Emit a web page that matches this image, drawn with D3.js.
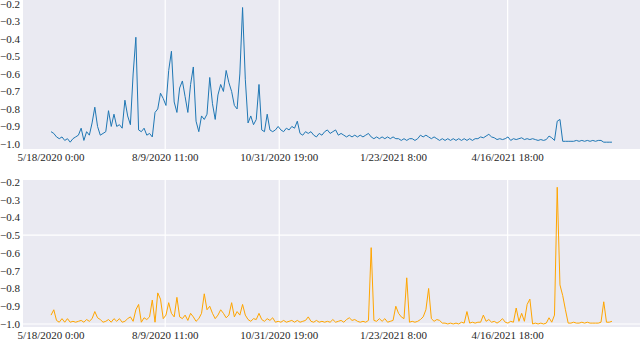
<!DOCTYPE html>
<html>
<head>
<meta charset="utf-8">
<script src="https://cdn.jsdelivr.net/npm/d3@7"></script>
<style>
  body { margin: 0; background: #fff; }
</style>
</head>
<body>
<div id="chart"></div>
<script>
// hourly series sampled every 2 days, starting 5/18/2020 0:00
var startDate = new Date(2020, 4, 18, 0, 0);
var stepDays = 2;

var topValues = [
  -0.93, -0.94, -0.96, -0.97, -0.96, -0.98, -0.97, -0.99, -0.97, -0.96,
  -0.95, -0.91, -0.98, -0.93, -0.95, -0.88, -0.79, -0.90, -0.95, -0.94,
  -0.93, -0.81, -0.90, -0.83, -0.90, -0.89, -0.91, -0.75, -0.84, -0.89,
  -0.60, -0.39, -0.92, -0.93, -0.91, -0.95, -0.94, -0.96, -0.82, -0.80,
  -0.71, -0.74, -0.78, -0.58, -0.47, -0.76, -0.82, -0.68, -0.64, -0.73,
  -0.82, -0.66, -0.56, -0.87, -0.93, -0.84, -0.86, -0.83, -0.62, -0.77,
  -0.86, -0.72, -0.66, -0.70, -0.58, -0.65, -0.70, -0.78, -0.80, -0.60,
  -0.22, -0.63, -0.88, -0.84, -0.89, -0.86, -0.66, -0.92, -0.93, -0.83,
  -0.92, -0.93, -0.92, -0.90, -0.92, -0.93, -0.91, -0.92, -0.90, -0.91,
  -0.87, -0.94, -0.95, -0.93, -0.94, -0.93, -0.95, -0.96, -0.94, -0.95,
  -0.93, -0.92, -0.94, -0.93, -0.92, -0.95, -0.94, -0.95, -0.96, -0.95,
  -0.96, -0.95, -0.96, -0.95, -0.96, -0.95, -0.94, -0.96, -0.97, -0.96,
  -0.97, -0.96, -0.97, -0.96, -0.97, -0.96, -0.97, -0.97, -0.98, -0.97,
  -0.98, -0.97, -0.97, -0.98, -0.97, -0.95, -0.96, -0.95, -0.96, -0.97,
  -0.96, -0.97, -0.98, -0.97, -0.98, -0.97, -0.98, -0.97, -0.98, -0.97,
  -0.98, -0.97, -0.98, -0.97, -0.98, -0.97, -0.97, -0.96, -0.965, -0.955,
  -0.945, -0.96, -0.965, -0.975, -0.97, -0.975, -0.97, -0.96, -0.98, -0.97,
  -0.975, -0.97, -0.965, -0.975, -0.97, -0.975, -0.97, -0.975, -0.98, -0.975,
  -0.98, -0.975, -0.955, -0.965, -0.98, -0.87, -0.86, -0.985, -0.985, -0.985,
  -0.985, -0.985, -0.98, -0.985, -0.98, -0.985, -0.98, -0.985, -0.98, -0.985,
  -0.98, -0.98, -0.99, -0.99, -0.99, -0.99
];

var bottomValues = [
  -0.95, -0.92, -0.98, -0.99, -0.97, -0.99, -0.97, -0.99, -0.985, -0.99,
  -0.985, -0.98, -0.99, -0.975, -0.985, -0.97, -0.93, -0.965, -0.975, -0.99,
  -0.985, -0.975, -0.99, -0.97, -0.985, -0.97, -0.99, -0.985, -0.97, -0.96,
  -0.985, -0.92, -0.89, -0.99, -0.965, -0.975, -0.96, -0.865, -0.99, -0.825,
  -0.86, -0.97, -0.95, -0.88, -0.94, -0.96, -0.85, -0.96, -0.97, -0.95,
  -0.98, -0.94, -0.96, -0.985, -0.97, -0.94, -0.83, -0.92, -0.90, -0.94,
  -0.97, -0.95, -0.92, -0.94, -0.965, -0.95, -0.88, -0.96, -0.93, -0.95,
  -0.89, -0.95, -0.975, -0.985, -0.97, -0.975, -0.94, -0.975, -0.985, -0.97,
  -0.98, -0.965, -0.99, -0.985, -0.99, -0.98, -0.99, -0.985, -0.98, -0.99,
  -0.98, -0.99, -0.985, -0.98, -0.96, -0.985, -0.99, -0.98, -0.99, -0.985,
  -0.99, -0.985, -0.99, -0.975, -0.99, -0.985, -0.98, -0.99, -0.975, -0.965,
  -0.98, -0.975, -0.985, -0.99, -0.985, -0.99, -0.98, -0.57, -0.98, -0.985,
  -0.97, -0.985, -0.97, -0.99, -0.985, -0.98, -0.90, -0.94, -0.96, -0.97,
  -0.74, -0.99, -0.985, -0.99, -0.985, -0.975, -0.96, -0.92, -0.80, -0.97,
  -0.985, -0.975, -0.98, -0.995, -0.995, -1.0, -0.995, -1.0, -0.995, -1.0,
  -0.99, -0.995, -0.93, -0.995, -0.99, -0.995, -0.99, -0.99, -0.95, -0.985,
  -0.975, -0.99, -0.985, -0.995, -0.985, -0.97, -0.99, -0.995, -0.985, -0.99,
  -0.91, -0.985, -0.94, -0.985, -0.89, -0.86, -1.0, -0.995, -1.0, -0.995,
  -1.0, -0.995, -0.965, -0.99, -0.95, -0.23, -0.78, -0.84, -0.92, -0.995,
  -0.995, -0.99, -0.995, -0.995, -0.99, -0.995, -0.99, -0.995, -0.995, -0.995,
  -0.995, -0.99, -0.875, -0.99, -0.99, -0.985
];

var xTickDates = [
  new Date(2020, 4, 18, 0), new Date(2020, 7, 9, 11), new Date(2020, 9, 31, 19),
  new Date(2021, 0, 23, 8), new Date(2021, 3, 16, 18)
];
var xTickLabels = ["5/18/2020 0:00", "8/9/2020 11:00", "10/31/2020 19:00", "1/23/2021 8:00", "4/16/2021 18:00"];
var yTicks = [-0.2, -0.3, -0.4, -0.5, -0.6, -0.7, -0.8, -0.9, -1.0];

// only some gridlines survive in the picture
var xGridDates = [xTickDates[1], xTickDates[2], xTickDates[4]];
var bottomGridY = [-0.5, -1.0];

var width = 640, height = 340;
var plotLeft = 23, plotRight = 640;
var fontFamily = "'Liberation Serif', 'Times New Roman', 'DejaVu Serif', serif";

var svg = d3.select("#chart").append("svg")
    .attr("width", width)
    .attr("height", height);

var dates = topValues.map(function(d, i) { return d3.timeDay.offset(startDate, i * stepDays); });

// matplotlib style 5% margins on the time axis
var extent = d3.extent(dates);
var pad = (extent[1] - extent[0]) * 0.05;
var x = d3.scaleTime()
    .domain([new Date(+extent[0] - pad), new Date(+extent[1] + pad)])
    .range([plotLeft, plotRight]);

var panels = [
    { values: topValues, color: "#1f77b4", top: 0, bottom: 149, domain: [-1.029, -0.177], gridY: [] },
    { values: bottomValues, color: "#ffa500", top: 180, bottom: 327, domain: [-1.017, -0.189], gridY: bottomGridY }
];

var fmt = d3.format(".1f");

panels.forEach(function(p) {
    var y = d3.scaleLinear().domain(p.domain).range([p.bottom, p.top]);
    var g = svg.append("g");

    g.append("rect")
        .attr("x", plotLeft)
        .attr("y", p.top)
        .attr("width", plotRight - plotLeft)
        .attr("height", p.bottom - p.top)
        .attr("fill", "#eaeaf2");

    g.selectAll(".vgrid").data(xGridDates).enter().append("line")
        .attr("class", "vgrid")
        .attr("x1", d => x(d)).attr("x2", d => x(d))
        .attr("y1", p.top).attr("y2", p.bottom)
        .attr("stroke", "#fff").attr("stroke-width", 1.2);

    g.selectAll(".hgrid").data(p.gridY).enter().append("line")
        .attr("class", "hgrid")
        .attr("x1", plotLeft).attr("x2", plotRight)
        .attr("y1", d => y(d)).attr("y2", d => y(d))
        .attr("stroke", "#fff").attr("stroke-width", 1.2);

    var line = d3.line()
        .x((d, i) => x(dates[i]))
        .y(d => y(d));

    g.append("path")
        .datum(p.values)
        .attr("d", line)
        .attr("fill", "none")
        .attr("stroke", p.color)
        .attr("stroke-width", 1)
        .attr("stroke-linejoin", "round");

    // y tick labels
    g.selectAll(".ylab").data(yTicks).enter().append("text")
        .attr("class", "ylab")
        .attr("x", 20)
        .attr("y", d => y(d))
        .attr("dy", "0.35em")
        .attr("text-anchor", "end")
        .attr("font-family", fontFamily)
        .attr("font-size", "11px")
        .attr("fill", "#262626")
        .text(d => fmt(d).replace("-", "\u2212"));

    // x tick labels
    g.selectAll(".xlab").data(xTickDates).enter().append("text")
        .attr("class", "xlab")
        .attr("x", d => x(d))
        .attr("y", p.bottom + 8)
        .attr("dy", "0.35em")
        .attr("text-anchor", "middle")
        .attr("font-family", fontFamily)
        .attr("font-size", "11px")
        .attr("fill", "#262626")
        .text((d, i) => xTickLabels[i]);
});
</script>
</body>
</html>
